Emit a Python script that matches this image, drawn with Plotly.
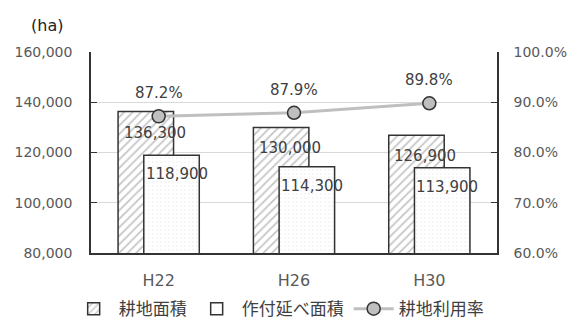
import plotly.graph_objects as go

categories = ["H22", "H26", "H30"]
farmland_area = [136300, 130000, 126900]
planted_area = [118900, 114300, 113900]
utilization_rate = [87.2, 87.9, 89.8]

num_font = "DejaVu Sans, sans-serif"
jp_font = "Noto Sans CJK JP, sans-serif"
text_color = "#404040"

fig = go.Figure()

fig.add_trace(go.Bar(
    x=categories, y=farmland_area, name="耕地面積",
    width=0.41, offset=-0.30,
    marker=dict(color="white", line=dict(color="#333333", width=1.5),
                pattern=dict(shape="/", fgcolor="#8c8c8c", bgcolor="white", size=6, solidity=0.3)),
))
fig.add_trace(go.Bar(
    x=categories, y=planted_area, name="作付延べ面積",
    width=0.41, offset=-0.11,
    marker=dict(color="white", line=dict(color="#333333", width=1.5),
                pattern=dict(shape=".", fgcolor="#d0d0d0", bgcolor="white", size=4, solidity=0.1)),
))
fig.add_trace(go.Scatter(
    x=categories, y=utilization_rate, name="耕地利用率", yaxis="y2",
    mode="lines+markers",
    line=dict(color="#bfbfbf", width=3),
    marker=dict(size=13, color="#bfbfbf", line=dict(color="#333333", width=1.5)),
))

annotations = []
for c, v in zip(categories, farmland_area):
    annotations.append(dict(x=c, y=v, xref="x", yref="y", text=f"{v:,}", showarrow=False,
                            xshift=-4, yshift=-21, font=dict(family=num_font, size=15, color=text_color)))
for c, v in zip(categories, planted_area):
    annotations.append(dict(x=c, y=v, xref="x", yref="y", text=f"{v:,}", showarrow=False,
                            xshift=18, yshift=-19, font=dict(family=num_font, size=15, color=text_color)))
for c, v in zip(categories, utilization_rate):
    annotations.append(dict(x=c, y=v, xref="x", yref="y2", text=f"{v:.1f}%", showarrow=False,
                            yshift=23, font=dict(family=num_font, size=15, color=text_color)))
annotations.append(dict(x=-0.109, y=1.134, xref="paper", yref="paper", text="(ha)", showarrow=False,
                        xanchor="center", yanchor="middle",
                        font=dict(family=num_font, size=16, color="#222222")))

fig.update_layout(
    width=571, height=322,
    margin=dict(l=91, r=74, t=52, b=69, autoexpand=False),
    paper_bgcolor="white", plot_bgcolor="white",
    font=dict(family=num_font, size=14, color="#595959"),
    barmode="overlay",
    showlegend=True,
    legend=dict(orientation="h", xref="paper", yref="paper",
                x=-0.055, xanchor="left", y=-0.279, yanchor="middle",
                itemwidth=40,
                font=dict(family=jp_font, size=17, color=text_color), traceorder="normal"),
    xaxis=dict(showline=True, linecolor="#333333", linewidth=1.5, ticks="",
               ticklabelstandoff=12, automargin=False,
               tickfont=dict(family=num_font, size=16, color="#595959")),
    yaxis=dict(range=[80000, 160000], dtick=20000, tickformat=",", showgrid=True,
               gridcolor="#d9d9d9", showline=True, linecolor="#333333", linewidth=1.5,
               ticks="inside", ticklen=6, tickcolor="#333333", zeroline=False,
               ticklabelstandoff=14, automargin=False,
               tickfont=dict(family=num_font, size=14, color="#595959")),
    yaxis2=dict(range=[60, 100], dtick=10, tickformat=".1f", ticksuffix="%", overlaying="y",
                side="right", showgrid=False, showline=True, linecolor="#333333", linewidth=1.5,
                ticks="inside", ticklen=6, tickcolor="#333333", zeroline=False,
                ticklabelstandoff=12, automargin=False,
                tickfont=dict(family=num_font, size=14, color="#595959")),
    annotations=annotations,
)

fig.write_html("out.html")
